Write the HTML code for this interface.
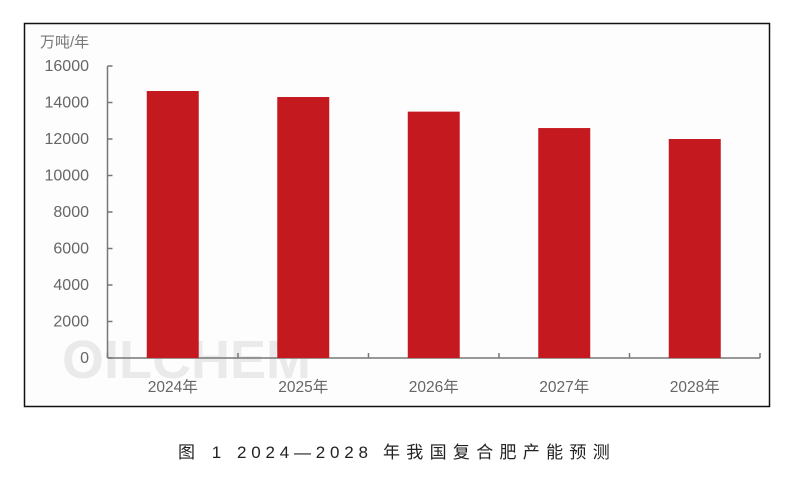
<!DOCTYPE html>
<html><head><meta charset="utf-8"><style>
body{margin:0;background:#fff;width:789px;height:481px;overflow:hidden;font-family:"Liberation Sans","Noto Sans CJK SC",sans-serif;}
</style></head><body>
<svg width="789" height="481" xmlns="http://www.w3.org/2000/svg">
<rect x="24.5" y="23.5" width="745" height="383" fill="#fdfdfd" stroke="#111" stroke-width="1.5"/>
<text x="40" y="47" font-size="15" fill="#777" font-family="Liberation Sans,Noto Sans CJK SC,sans-serif">万吨/年</text>
<text x="62" y="378" font-size="54" font-weight="bold" fill="#e2e2e2" opacity="0.7" font-family="Liberation Sans,sans-serif">OILCHEM</text>
<g id="axes"></g>
<g id="bars"></g>
<g font-size="17" fill="#222" font-family="Liberation Sans,Noto Sans CJK SC,sans-serif">
<text x="178" y="458" letter-spacing="6">图 1</text>
<text x="237" y="458" textLength="131" lengthAdjust="spacing">2024—2028</text>
<text x="383" y="458" letter-spacing="6.3">年我国复合肥产能预测</text>
</g>
</svg>
<script>
const categories=["2024年","2025年","2026年","2027年","2028年"];
const values=[14630,14300,13500,12600,12000];
const yTicks=[0,2000,4000,6000,8000,10000,12000,14000,16000];
const NS="http://www.w3.org/2000/svg";
const x0=107.5,x1=760,yTop=66,yBot=358,yMax=16000;
const yS=v=>yBot-(v/yMax)*(yBot-yTop);
const band=(x1-x0)/categories.length;
const xC=i=>x0+band*(i+0.5);
function mk(t,a,p){const e=document.createElementNS(NS,t);for(const k in a)e.setAttribute(k,a[k]);p.appendChild(e);return e;}
const ax=document.getElementById('axes'),bg=document.getElementById('bars');
let l=mk('line',{x1:x0,y1:yTop,x2:x0,y2:yBot,stroke:'#777','stroke-width':1.5},ax);


l=mk('line',{x1:x0,y1:yBot,x2:x1,y2:yBot,stroke:'#777','stroke-width':1.5},ax);


yTicks.forEach(v=>{
 const t=mk('line',{x1:x0,y1:yS(v),x2:x0+5,y2:yS(v),stroke:'#777','stroke-width':1.5},ax);
 
 
 const tx=mk('text',{x:89,y:yS(v)+5,'font-size':16,fill:'#666','text-anchor':'end'},ax);
 tx.textContent=v;
 
 
});
for(let i=0;i<=categories.length;i++){
 const x=x0+band*i;
 const t=mk('line',{x1:x,y1:yBot,x2:x,y2:yBot-5,stroke:'#777','stroke-width':1.5},ax);
 
 
}
categories.forEach((c,i)=>{
 const b=mk('rect',{x:xC(i)-26,y:yS(values[i]),width:52,height:yBot-yS(values[i]),fill:'#c3191f'},bg);
 
 
 const tx=mk('text',{x:xC(i),y:392,'font-size':15.5,fill:'#666','text-anchor':'middle'},ax);
 tx.textContent=c;
 
 
});
</script>
</body></html>
